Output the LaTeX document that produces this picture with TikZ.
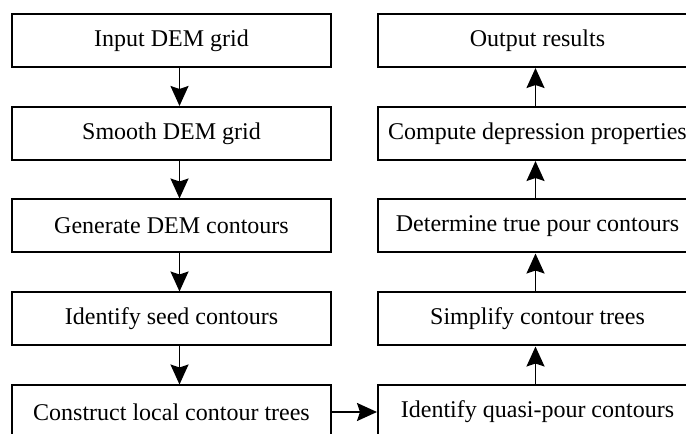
\documentclass[tikz,border=0pt]{standalone}
\usepackage{fontspec}
\setmainfont{Liberation Serif}
\usetikzlibrary{arrows.meta}
\begin{document}
\begin{tikzpicture}[x=1pt,y=1pt,
  stepbox/.style={draw=black, line width=2pt, minimum width=319pt, minimum height=53pt, inner sep=0pt, font=\fontsize{24}{27}\selectfont, fill=white},
  flow/.style={line width=1.8pt, -{Stealth[length=20pt,width=18pt,inset=3pt]}}]
\useasboundingbox (0,0) rectangle (686,434);
\fill[white] (0,0) rectangle (686,434);
% left column (y = 434 - pixel)
\node[stepbox] (l1) at (171.5,393.5) {Input DEM grid};
\node[stepbox] (l2) at (171.5,300.5) {Smooth DEM grid};
\node[stepbox] (l3) at (171.5,208) {Generate DEM contours};
\node[stepbox] (l4) at (171.5,115) {Identify seed contours};
\node[stepbox] (l5) at (171.5,22) {Construct local contour trees};
% right column
\node[stepbox] (r1) at (537.5,393.5) {Output results};
\node[stepbox] (r2) at (537.5,300.5) {Compute depression properties};
\node[stepbox] (r3) at (537.5,208) {Determine true pour contours};
\node[stepbox] (r4) at (537.5,115) {Simplify contour trees};
\node[stepbox] (r5) at (537.5,22) {Identify quasi-pour contours};
% arrows
\draw[flow] ([xshift=8pt]l1.south) -- ([xshift=8pt]l2.north);
\draw[flow] ([xshift=8pt]l2.south) -- ([xshift=8pt]l3.north);
\draw[flow] ([xshift=8pt]l3.south) -- ([xshift=8pt]l4.north);
\draw[flow] ([xshift=8pt]l4.south) -- ([xshift=8pt]l5.north);
\draw[flow] ([xshift=-2pt]r5.north) -- ([xshift=-2pt]r4.south);
\draw[flow] ([xshift=-2pt]r4.north) -- ([xshift=-2pt]r3.south);
\draw[flow] ([xshift=-2pt]r3.north) -- ([xshift=-2pt]r2.south);
\draw[flow] ([xshift=-2pt]r2.north) -- ([xshift=-2pt]r1.south);
\draw[flow] (l5.east) -- (r5.west);
\end{tikzpicture}
\end{document}
